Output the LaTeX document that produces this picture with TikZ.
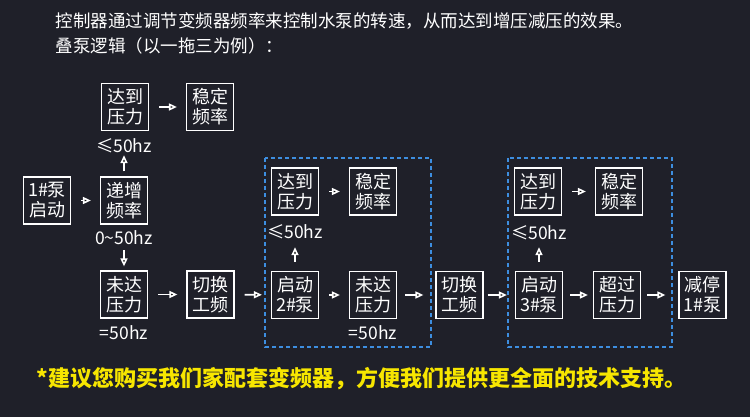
\documentclass[tikz,border=0pt]{standalone}
\usepackage{fontspec}
\setmainfont{Noto Sans CJK SC}
\usetikzlibrary{arrows.meta}
\definecolor{bgc}{HTML}{1F2029}
\definecolor{dashblue}{HTML}{3D8EE0}
\definecolor{tipyellow}{HTML}{F7E600}

\begin{document}
\begin{tikzpicture}[x=1pt,y=-1pt,
	box/.style={draw=white, line width=1.2pt, text=white, minimum width=47pt, minimum height=47pt, inner sep=0pt, align=center, font=\fontsize{18}{20}\selectfont},
	lbl/.style={text=white, minimum height=16pt, inner sep=0pt, font=\fontsize{17.5}{20}\selectfont},
	arr/.style={draw=white, line width=1.6pt, -{Triangle[length=8pt,width=7pt]}, shorten <=10pt, shorten >=9pt},
	grp/.style={draw=dashblue, line width=1.2pt, dash pattern=on 4pt off 3pt}]
	\fill[bgc] (0,0) rectangle (750,417);
	\useasboundingbox (0,0) rectangle (750,417);

	% header and footer
	\node[anchor=west, text=white, font=\fontsize{17.5}{20}\selectfont] (T1) at (52,21) {控制器通过调节变频器频率来控制水泵的转速，从而达到增压减压的效果。};
	\node[anchor=west, text=white, font=\fontsize{17.5}{20}\selectfont] (T2) at (52,46) {叠泵逻辑（以一拖三为例）：};
	\node[anchor=west, text=tipyellow, font=\fontsize{22}{26}\selectfont\bfseries] (T3) at (33,379) {*建议您购买我们家配套变频器，方便我们提供更全面的技术支持。};

	% groups
	\draw[grp] (265,158) rectangle (431,347);
	\draw[grp] (508,158) rectangle (672,347);

	% 1# pump
	\node[box] (A) at (125,107) {达到\\压力};
	\node[box] (B) at (210,107) {稳定\\频率};
	\node[box] (C) at (47,200.5) {1\#泵\\启动};
	\node[box] (D) at (124,200.5) {递增\\频率};
	\node[box] (E) at (124,294.5) {未达\\压力};
	\node[box] (F) at (210.5,294.5) {切换\\工频};
	\node[lbl] (L1) at (124,146) {≤50hz};
	\node[lbl] (L2) at (124,238) {0\char`~50hz};
	\node[lbl] (L3) at (124,333) {=50hz};

	% 2# pump
	\node[box] (G) at (295,191.5) {达到\\压力};
	\node[box] (H) at (373,191.5) {稳定\\频率};
	\node[box] (I) at (295,295) {启动\\2\#泵};
	\node[box] (J) at (373,295) {未达\\压力};
	\node[box] (K) at (459.5,295) {切换\\工频};
	\node[lbl] (L4) at (295,232) {≤50hz};
	\node[lbl] (L5) at (373,333) {=50hz};

	% 3# pump
	\node[box] (M) at (538,191.5) {达到\\压力};
	\node[box] (N) at (619,191.5) {稳定\\频率};
	\node[box] (O) at (539,295) {启动\\3\#泵};
	\node[box] (P) at (617,295) {超过\\压力};
	\node[box] (Q) at (702.5,295) {减停\\1\#泵};
	\node[lbl] (L6) at (539,233) {≤50hz};

	\path[arr] (A) edge (B);
	\path[arr] (C) edge (D);
	\path[arr, shorten <=5pt, shorten >=1pt] (D) edge (L1);
	\path[arr, shorten <=4pt, shorten >=4pt] (L2) edge (E);
	\path[arr] (E) edge (F);
	\path[arr] (F) edge (I);
	\path[arr] (G) edge (H);
	\path[arr, shorten <=9pt, shorten >=7pt] (I) edge (L4);
	\path[arr] (I) edge (J);
	\path[arr, shorten <=8pt, shorten >=12pt] (J) edge (K);
	\path[arr, shorten <=4pt, shorten >=8pt] (K) edge (O);
	\path[arr] (M) edge (N);
	\path[arr, shorten <=9pt, shorten >=6pt] (O) edge (L6);
	\path[arr, shorten <=7pt, shorten >=5pt] (O) edge (P);
	\path[arr, shorten <=6pt, shorten >=13pt] (P) edge (Q);
\end{tikzpicture}
\end{document}
